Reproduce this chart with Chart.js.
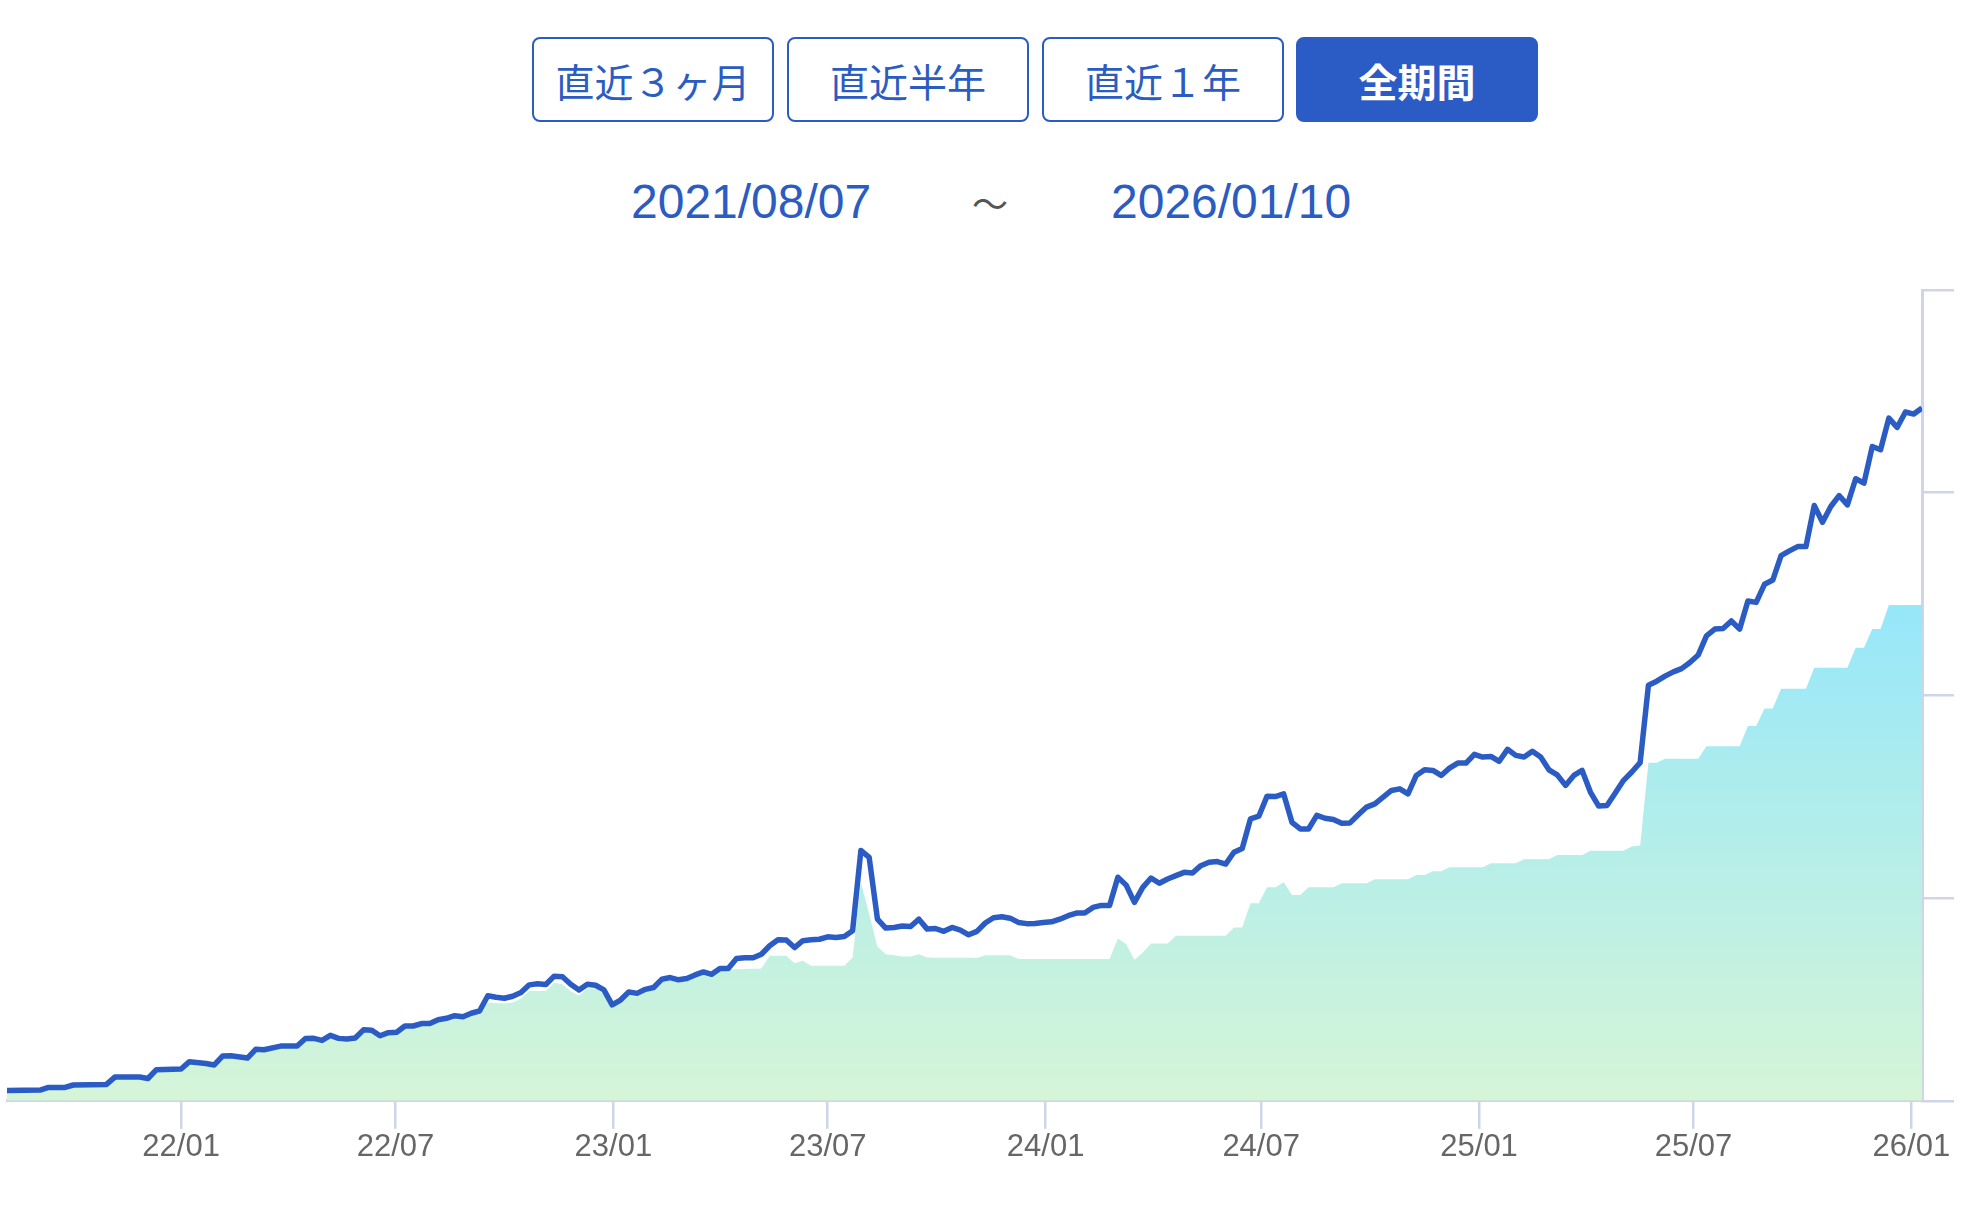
<!DOCTYPE html>
<html lang="ja">
<head>
    <meta charset="UTF-8">
    <title>資産推移</title>
    <script src="https://cdn.jsdelivr.net/npm/chart.js"></script>
    <style>
        body {
            margin: 0;
            background: #fff;
            width: 1966px;
            height: 1206px;
            position: relative;
            overflow: hidden;
            font-family: "Noto Sans CJK JP", "Noto Sans", sans-serif;
        }
        .range-btn {
            position: absolute;
            top: 37px;
            width: 242px;
            height: 85px;
            box-sizing: border-box;
            border: 2.5px solid #2b5cc2;
            border-radius: 8px;
            background: #fff;
            color: #2b5cc2;
            font-size: 39px;
            display: flex;
            align-items: center;
            justify-content: center;
        }
        .range-btn.active {
            background: #2b5cc6;
            color: #fff;
            font-weight: 700;
        }
        .date {
            position: absolute;
            top: 172px;
            line-height: 60px;
            font-family: "Liberation Sans", Arial, sans-serif;
            font-size: 48px;
            color: #2b5cc2;
            text-align: center;
        }
        .tilde {
            position: absolute;
            top: 172px;
            line-height: 60px;
            font-size: 36px;
            color: #555;
            text-align: center;
        }
        #chartBox {
            position: absolute;
            left: 0;
            top: 260px;
            width: 1966px;
            height: 940px;
        }
    </style>
</head>
<body>
    <!-- period buttons -->
    <div class="range-btn" style="left:532px">直近３ヶ月</div>
    <div class="range-btn" style="left:787px">直近半年</div>
    <div class="range-btn" style="left:1042px">直近１年</div>
    <div class="range-btn active" style="left:1296px">全期間</div>

    <!-- date range -->
    <div class="date" style="left:631px;width:240px">2021/08/07</div>
    <div class="tilde" style="left:960px;width:60px">〜</div>
    <div class="date" style="left:1111px;width:240px">2026/01/10</div>

    <div id="chartBox"><canvas id="assetChart"></canvas></div>

    <script>
        // weekly data, week 0 = 2021/08/07
        const START = Date.UTC(2021, 7, 7);
        const END_WEEK = 231;

        // valuation (blue line)
        const lineWeeks = [0, 4, 5, 7, 8, 12, 13, 16, 17, 18, 21, 22, 24, 25, 26, 27, 29, 30, 31, 33, 35,
            36, 37, 38, 39, 40, 41, 42, 43, 44, 45, 46, 47, 48, 49, 50, 51, 52, 53, 54, 55, 56, 57, 58, 59,
            60, 61, 62, 63, 64, 65, 66, 67, 68, 69, 70, 71, 72, 73, 74, 75, 76, 77, 78, 79, 80, 81, 82, 83,
            84, 85, 86, 87, 88, 89, 90, 91, 92, 93, 94, 95, 96, 97, 98, 99, 100, 101, 102, 103, 104, 105,
            106, 107, 108, 109, 110, 111, 112, 113, 114, 115, 116, 117, 118, 119, 120, 121, 122, 123, 124,
            125, 126, 127, 128, 129, 130, 131, 132, 133, 134, 135, 136, 137, 138, 139, 140, 141, 142, 143,
            144, 145, 146, 147, 148, 149, 150, 151, 152, 153, 154, 155, 156, 157, 158, 159, 160, 161, 162,
            163, 164, 165, 166, 167, 168, 169, 170, 171, 172, 173, 174, 175, 176, 177, 178, 179, 180, 181,
            182, 183, 184, 185, 186, 187, 188, 189, 190, 191, 192, 193, 194, 195, 196, 197, 198, 199, 200,
            201, 202, 203, 204, 205, 206, 207, 208, 209, 210, 211, 212, 213, 214, 215, 216, 217, 218, 219,
            220, 221, 222, 223, 224, 225, 226, 227, 228, 229, 230, 231];
        const lineValues = [5.1, 5.3, 6.6, 6.6, 7.8, 8.1, 11.7, 11.7, 11.0, 15.3, 15.7, 19.3, 18.4, 17.7, 22.1, 22.2, 21.1, 25.4, 25.2, 27.0, 27.0,
            30.7, 30.8, 29.8, 32.3, 30.8, 30.5, 31.0, 35.0, 34.8, 32.1, 33.6, 33.8, 36.9, 36.9, 38.1, 38.1, 40.0, 40.7, 42.0, 41.5, 43.2, 44.3, 51.8, 51.1,
            50.6, 51.6, 53.4, 57.2, 57.7, 57.4, 61.5, 61.2, 57.5, 54.7, 57.5, 57.0, 54.7, 47.3, 49.7, 53.7, 53.0, 55.0, 55.9, 60.0, 60.8, 59.7, 60.3, 62.1,
            63.6, 62.4, 65.3, 65.3, 70.2, 70.6, 70.6, 72.3, 76.5, 79.4, 79.3, 75.6, 79.0, 79.4, 79.7, 80.9, 80.6, 81.1, 83.9, 123.5, 120.1, 89.6,
            85.2, 85.5, 86.2, 86.0, 89.6, 84.7, 85.0, 83.6, 85.5, 84.2, 81.9, 83.6, 87.7, 90.3, 90.8, 90.1, 88.0, 87.4, 87.5,
            88.0, 88.3, 89.6, 91.3, 92.6, 92.6, 95.4, 96.4, 96.3, 110.3, 106.4, 97.9, 105.3, 109.9, 107.3, 109.4, 111.1, 112.7, 112.4,
            116.0, 117.7, 118.0, 116.8, 122.6, 124.5, 139.1, 140.4, 150.3, 150.1, 151.4, 137.4, 134.1, 134.1, 140.8, 139.4, 138.8, 136.9, 137.1,
            141.1, 144.9, 146.5, 149.8, 153.1, 153.9, 151.4, 160.5, 163.3, 163.0, 160.5, 164.1, 166.6, 166.6, 170.9, 169.6, 169.9, 167.5, 173.4,
            170.4, 169.6, 172.4, 169.6, 163.3, 160.8, 155.6, 160.5, 163.0, 152.3, 145.4, 145.7, 151.9, 158.1, 162.2, 166.8, 205.0, 207.0, 209.5,
            211.6, 213.2, 216.2, 219.9, 229.4, 232.7, 233.0, 236.7, 232.7, 246.6, 245.9, 254.8, 256.9, 269.0, 271.3, 273.4, 273.4, 293.7, 285.4,
            293.2, 298.6, 294.0, 306.9, 304.7, 322.8, 321.2, 336.8, 332.2, 339.8, 338.8, 341.8];

        // principal (gradient area)
        const fillWeeks = [0, 4, 5, 7, 8, 12, 13, 16, 17, 18, 21, 22, 24, 25, 26, 27, 29, 30, 31, 33, 35,
            36, 37, 38, 39, 40, 41, 42, 43, 44, 45, 46, 47, 48, 49, 50, 51, 52, 53, 54, 55, 56, 57, 58,
            60, 61, 62, 63, 65, 66, 67, 68, 69, 70, 71, 72, 73, 74, 75, 76, 77, 78, 79, 80, 81, 82, 83,
            84, 85, 86, 87, 91, 92, 94, 95, 96, 97, 101, 102, 103, 104, 105, 106, 107, 108, 109, 110, 111,
            112, 116, 117, 118, 121, 122, 133, 134, 135, 136, 137, 138, 140, 141, 147, 148, 149, 150, 151,
            152, 153, 154, 155, 156, 157, 160, 161, 164, 165, 169, 170, 171, 172, 173, 174, 178, 179, 182,
            183, 186, 187, 190, 191, 195, 196, 197, 198, 199, 200, 204, 205, 209, 210, 211, 212, 213, 214,
            217, 218, 222, 223, 224, 225, 226, 227, 231];
        const fillValues = [4.0, 4.2, 5.5, 5.5, 6.8, 7.0, 10.6, 10.6, 10.0, 14.2, 14.6, 18.0, 17.3, 16.6, 21.0, 21.1, 20.0, 24.2, 24.1, 25.9, 25.9,
            29.5, 29.6, 28.7, 31.1, 29.7, 29.4, 29.9, 33.8, 33.6, 31.0, 32.4, 32.6, 35.7, 35.7, 36.9, 36.9, 38.8, 39.5, 40.8, 40.3, 41.9, 42.5, 48.5,
            48.0, 48.5, 50.5, 54.2, 54.2, 58.3, 57.5, 54.0, 51.8, 55.5, 55.5, 52.5, 46.0, 48.5, 52.0, 51.5, 53.8, 54.6, 58.6, 59.5, 58.4, 59.0, 60.8,
            62.3, 61.2, 64.0, 64.8, 65.3, 71.5, 71.5, 67.9, 69.1, 66.6, 66.6, 70.7, 107.8, 92.0, 76.0, 72.3, 71.8, 71.2, 71.2, 72.3, 70.7,
            70.6, 70.6, 70.4, 71.8, 71.8, 69.9, 69.9, 80.1, 77.3, 69.6, 73.2, 77.6, 77.6, 81.4, 81.4, 85.5, 85.5, 97.5, 97.5,
            105.3, 105.3, 107.8, 101.5, 101.5, 105.3, 105.3, 107.3, 107.3, 109.3, 109.3, 111.4, 111.4, 113.2, 113.2, 115.2, 115.2, 117.2, 117.2,
            119.2, 119.2, 121.3, 121.3, 123.3, 123.3, 125.4, 125.9, 166.8, 166.8, 168.7, 168.7, 174.9, 174.9, 184.9, 184.9, 193.5, 193.5, 203.3,
            203.3, 213.6, 213.6, 223.5, 223.5, 232.7, 232.7, 244.6, 244.6];

        const tickLabels = ['22/01', '22/07', '23/01', '23/07', '24/01', '24/07', '25/01', '25/07', '26/01'];

        const DAY = 86400000;
        const toPoints = (weeks, values) => weeks.map((w, i) => ({ x: w * 7, y: values[i] }));
        const tickDays = tickLabels.map(t => {
            const [yy, mm] = t.split('/').map(Number);
            return (Date.UTC(2000 + yy, mm - 1, 1) - START) / DAY;
        });

        const axisColor = '#cdd5e6';

        function areaGradient(context) {
            const chart = context.chart;
            const area = chart.chartArea;
            if (!area) return '#c6f2df';
            const yScale = chart.scales.y;
            const g = chart.ctx.createLinearGradient(0, area.bottom, 0, yScale.getPixelForValue(245));
            g.addColorStop(0, '#d5f5d7');
            g.addColorStop(1, '#96e7fa');
            return g;
        }

        new Chart(document.getElementById('assetChart'), {
            type: 'line',
            data: {
                datasets: [{
                    label: '評価額',
                    data: toPoints(lineWeeks, lineValues),
                    borderColor: '#2b5cc4',
                    borderWidth: 5.5,
                    borderJoinStyle: 'round',
                    pointRadius: 0,
                    tension: 0,
                    fill: false,
                    order: 0
                }, {
                    label: '元本',
                    data: toPoints(fillWeeks, fillValues),
                    borderWidth: 0,
                    borderColor: 'rgba(0,0,0,0)',
                    backgroundColor: areaGradient,
                    pointRadius: 0,
                    tension: 0,
                    fill: 'origin',
                    order: 1
                }]
            },
            options: {
                responsive: true,
                maintainAspectRatio: false,
                animation: false,
                layout: { padding: { top: 30, left: 7, right: 12, bottom: 34 } },
                plugins: { legend: { display: false }, tooltip: { enabled: false } },
                scales: {
                    x: {
                        type: 'linear',
                        min: 0,
                        max: END_WEEK * 7,
                        afterBuildTicks: scale => {
                            scale.ticks = tickDays.map(v => ({ value: v }));
                        },
                        grid: { drawOnChartArea: false, color: axisColor, lineWidth: 2.5, tickLength: 28 },
                        border: { color: axisColor, width: 3 },
                        ticks: {
                            autoSkip: false,
                            maxRotation: 0,
                            padding: 0,
                            color: '#666',
                            font: { family: "'Liberation Sans', Arial, sans-serif", size: 31 },
                            callback: (v, i) => tickLabels[i]
                        }
                    },
                    y: {
                        position: 'right',
                        min: 0,
                        max: 400,
                        ticks: { display: false, stepSize: 100 },
                        grid: { drawOnChartArea: false, color: axisColor, lineWidth: 2.5, tickLength: 32 },
                        border: { color: axisColor, width: 3 }
                    }
                }
            }
        });
    </script>
</body>
</html>
